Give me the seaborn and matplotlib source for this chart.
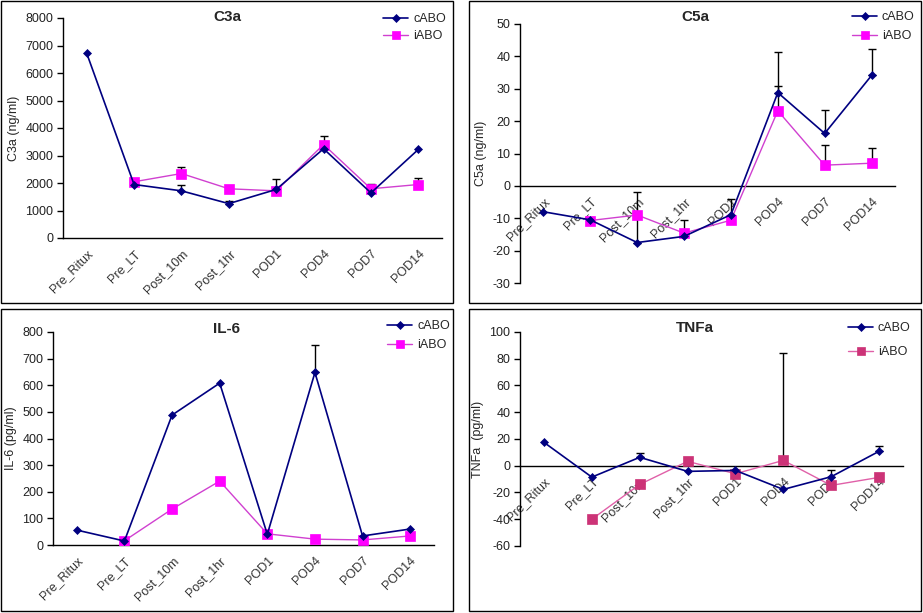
import numpy as np
import matplotlib
matplotlib.use("Agg")
import matplotlib.pyplot as plt
from matplotlib.patches import Rectangle
import seaborn as sns

# ---------------- data ----------------
categories = ["Pre_Ritux", "Pre_LT", "Post_10m", "Post_1hr", "POD1", "POD4", "POD7", "POD14"]

c3a_cabo = [6720, 1945, 1715, 1250, 1765, 3245, 1640, 3220]
c3a_cabo_err = [np.nan, np.nan, 230, 100, 365, np.nan, np.nan, np.nan]
c3a_iabo = [np.nan, 2045, 2345, 1790, 1715, 3400, 1790, 1945]
c3a_iabo_err = [np.nan, np.nan, 220, np.nan, np.nan, 295, 190, 220]

c5a_cabo = [-8.0, -10.5, -17.5, -15.6, -8.9, 28.8, 16.2, 34.1]
c5a_cabo_err = [np.nan, np.nan, 15.5, 5.0, 4.8, 12.4, 7.2, 8.3]
c5a_iabo = [np.nan, -10.7, -9.0, -14.6, -10.6, 23.2, 6.4, 7.0]
c5a_iabo_err = [np.nan, np.nan, np.nan, np.nan, np.nan, 7.8, 6.1, 4.7]

il6_cabo = [56, 15, 488, 608, 40, 648, 34, 60]
il6_cabo_err = [np.nan, np.nan, np.nan, np.nan, np.nan, 103, np.nan, np.nan]
il6_iabo = [np.nan, 16, 135, 240, 42, 22, 19, 34]
il6_iabo_err = [np.nan] * 8

tnf_cabo = [17.5, -8.5, 6.3, -4.2, -3.5, -17.7, -8.2, 10.8]
tnf_cabo_err = [np.nan, np.nan, 3.0, np.nan, np.nan, np.nan, 4.7, 4.2]
tnf_iabo = [np.nan, -40.0, -14.0, 3.3, -6.0, 4.0, -14.7, -8.7]
tnf_iabo_err = [np.nan, np.nan, np.nan, np.nan, np.nan, 80.3, np.nan, np.nan]

titles = ["C3a", "C5a", "IL-6", "TNFa"]
ylabels = ["C3a (ng/ml)", "C5a (ng/ml)", "IL-6 (pg/ml)", "TNFa  (pg/ml)"]
yticks = [np.arange(0, 8001, 1000), np.arange(-30, 51, 10),
          np.arange(0, 801, 100), np.arange(-60, 101, 20)]
series_names = ["cABO", "iABO"]

# ---------------- style ----------------
sns.set_theme(style="white")
plt.rcParams["font.family"] = ["Liberation Sans", "DejaVu Sans"]

W, H = 923, 613
fig = plt.figure(figsize=(W / 100, H / 100), dpi=100)


def fx(px):
    return px / W


def fy(py):
    return 1 - py / H


# axes rects in pixel coordinates (left, top, right, bottom)
ax_px = [(63, 18, 442, 238), (520, 24, 895, 283), (53, 332, 434, 545), (520, 332, 903, 546)]
panel_px = [(1, 1, 453, 303), (469, 1, 921, 303), (1, 309, 453, 611), (469, 309, 921, 611)]
title_px = [(227, 17), (695, 17), (227, 329), (695, 328)]
legend_px = [(383, 13, 0.4), (852, 11, 0.55), (387, 320, 0.55), (848, 322, 0.95)]
zero_axis = [False, True, False, True]

data = [
    (c3a_cabo, c3a_cabo_err, c3a_iabo, c3a_iabo_err),
    (c5a_cabo, c5a_cabo_err, c5a_iabo, c5a_iabo_err),
    (il6_cabo, il6_cabo_err, il6_iabo, il6_iabo_err),
    (tnf_cabo, tnf_cabo_err, tnf_iabo, tnf_iabo_err),
]

navy = "#000080"
iabo_line = ["#D040D0", "#D040D0", "#D040D0", "#E060A8"]
iabo_mark = ["#FF00FF", "#FF00FF", "#FF00FF", "#CC3377"]

pos = np.arange(len(categories)) + 0.5
FS = 9

for i in range(4):
    l, t, r, b = ax_px[i]
    ax = fig.add_axes([fx(l), fy(b), fx(r - l), (b - t) / H])
    cabo, cabo_err, iabo, iabo_err = data[i]

    for s in ("top", "right"):
        ax.spines[s].set_visible(False)
    for s in ("left", "bottom"):
        ax.spines[s].set_color("black")
        ax.spines[s].set_linewidth(1)
    if zero_axis[i]:
        ax.spines["bottom"].set_position(("data", 0))

    # error bars (upper only)
    for vals, errs in ((cabo, cabo_err), (iabo, iabo_err)):
        v = np.array(vals, dtype=float)
        e = np.array(errs, dtype=float)
        m = ~np.isnan(e) & ~np.isnan(v)
        if m.any():
            ax.errorbar(pos[m], v[m], yerr=[np.zeros(m.sum()), e[m]], fmt="none",
                        ecolor="black", elinewidth=1, capsize=3, capthick=1, zorder=2)

    sns.lineplot(x=pos, y=np.array(iabo, dtype=float), ax=ax, color=iabo_line[i],
                 marker="s", markersize=6.5, markerfacecolor=iabo_mark[i],
                 markeredgecolor=iabo_mark[i], markeredgewidth=0.5,
                 linewidth=1.0, label="iABO", zorder=3, legend=False)
    sns.lineplot(x=pos, y=np.array(cabo, dtype=float), ax=ax, color=navy,
                 marker="D", markersize=4.5, markerfacecolor=navy,
                 markeredgecolor=navy, markeredgewidth=0.5,
                 linewidth=1.2, label="cABO", zorder=4, legend=False)

    yt = yticks[i]
    ax.set_ylim(yt[0], yt[-1])
    ax.set_xlim(0, len(categories))
    ax.set_yticks(yt)
    ax.set_yticklabels([str(v) for v in yt], fontsize=FS, color="#222222")
    ax.set_xticks(pos)
    ax.set_xticklabels(categories, rotation=45, ha="right", rotation_mode="anchor",
                       fontsize=FS, color="#333333")
    ax.set_xticks(np.arange(len(categories) + 1), minor=True)
    ax.tick_params(axis="x", which="major", length=0, pad=7)
    ax.tick_params(axis="x", which="minor", length=4,
                   direction="inout" if zero_axis[i] else "out", color="black", width=1)
    ax.tick_params(axis="y", which="major", length=4, direction="out",
                   color="black", width=1, left=True, pad=3)
    ax.set_xlabel("")
    ax.set_ylabel(ylabels[i], fontsize=FS, labelpad=4)
    ax.set_facecolor("none")
    ax.grid(False)

    # legend
    h, lab = ax.get_legend_handles_labels()
    order = [lab.index("cABO"), lab.index("iABO")]
    lx, ly, sp = legend_px[i]
    ax.legend([h[k] for k in order], [lab[k] for k in order], loc="upper left",
              bbox_to_anchor=(fx(lx), fy(ly)), bbox_transform=fig.transFigure,
              frameon=False, fontsize=FS, handlelength=2.0, handletextpad=0.4,
              labelspacing=sp, borderpad=0, borderaxespad=0, markerscale=0.8)

    tx, ty = title_px[i]
    fig.text(fx(tx), fy(ty), titles[i], fontsize=11, fontweight="bold",
             ha="center", va="center")

    pl, pt, pr, pb = panel_px[i]
    fig.add_artist(Rectangle((fx(pl), fy(pb)), fx(pr - pl), (pb - pt) / H,
                             transform=fig.transFigure, fill=False,
                             edgecolor="black", linewidth=1))

fig.savefig("out.png", dpi=100)
